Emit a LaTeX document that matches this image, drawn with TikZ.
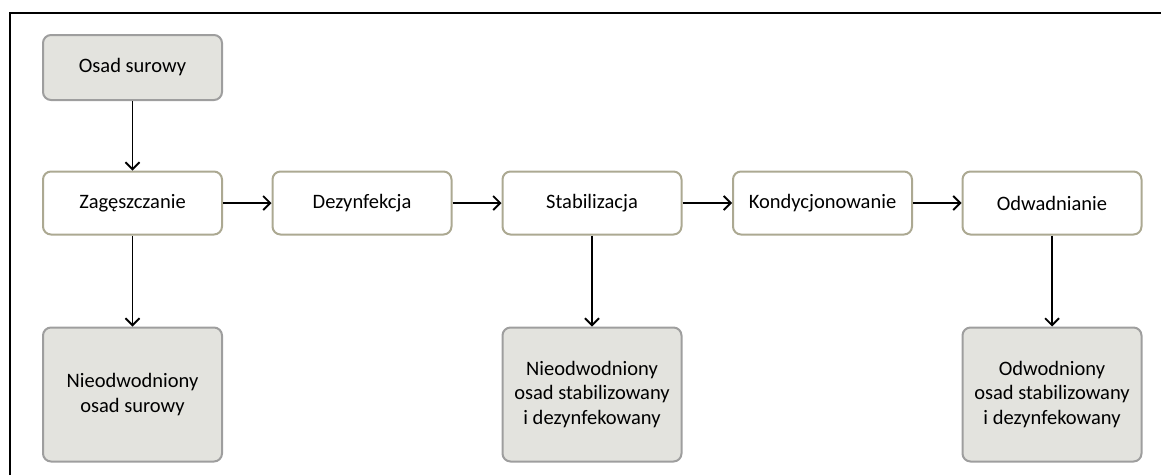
\documentclass[tikz,border=0pt]{standalone}
\usepackage{fontspec}
\setmainfont{Carlito}
\usetikzlibrary{arrows.meta}
\definecolor{grayfill}{RGB}{227,227,222}
\definecolor{grayline}{RGB}{158,158,158}
\definecolor{oliveline}{RGB}{172,169,146}
\begin{document}
\begin{tikzpicture}[x=1pt,y=-1pt,
  base/.style={rounded corners=8pt, line width=2pt, align=center, inner sep=0pt,
    font=\fontsize{20.5}{24.8}\selectfont, anchor=north west},
  proc/.style={base, draw=oliveline, fill=white, minimum width=179pt, minimum height=63pt},
  prod/.style={base, draw=grayline, fill=grayfill, minimum width=179pt},
  arr/.style={-{Straight Barb[length=7pt,width=14pt,line width=1.8pt]}, line width=1.6pt, black}]
\useasboundingbox (0,0) rectangle (1161,475);
\draw[line width=1.2pt] (10,475) -- (10,13) -- (1161,13);
\node[prod, minimum height=65pt] (raw) at (42,34) {Osad surowy};
\node[proc] (zag) at (42,170.5) {Zagęszczanie};
\node[proc] (dez) at (271.5,170.5) {Dezynfekcja};
\node[proc] (stab) at (501.5,170.5) {Stabilizacja};
\node[proc] (kond) at (732,170.5) {Kondycjonowanie};
\node[proc] (odw) at (961.5,170.5) {Odwadnianie};
\node[prod, minimum height=134pt] (p1) at (42,326.5) {Nieodwodniony\\osad surowy};
\node[prod, minimum height=134pt] (p2) at (501.5,326.5) {Nieodwodniony\\osad stabilizowany\\i dezynfekowany};
\node[prod, minimum height=134pt] (p3) at (961.5,326.5) {Odwodniony\\osad stabilizowany\\i dezynfekowany};
\draw[arr] (raw) -- (zag);
\draw[arr] (zag) -- (dez);
\draw[arr] (dez) -- (stab);
\draw[arr] (stab) -- (kond);
\draw[arr] (kond) -- (odw);
\draw[arr] (zag) -- (p1);
\draw[arr] (stab) -- (p2);
\draw[arr] (odw) -- (p3);
\end{tikzpicture}
\end{document}
